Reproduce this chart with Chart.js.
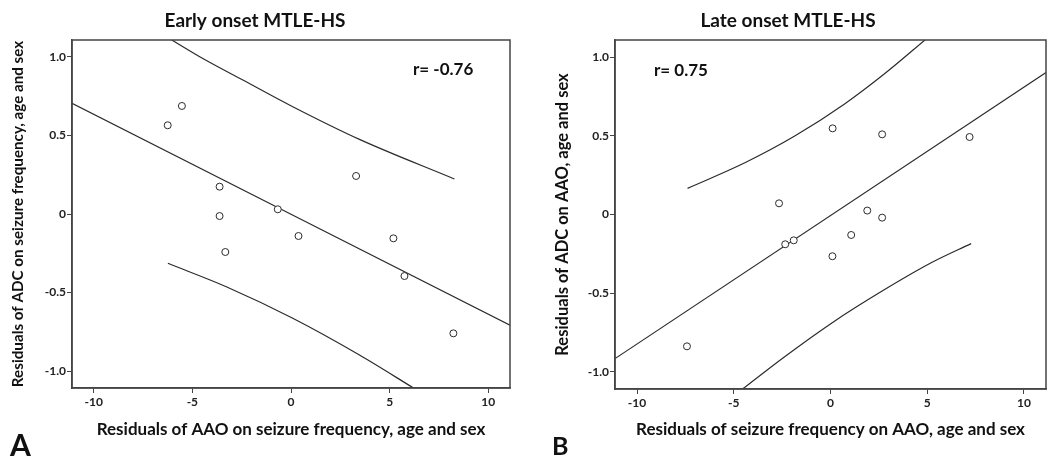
<!DOCTYPE html>
<html>
<head>
<meta charset="utf-8">
<script src="https://cdn.jsdelivr.net/npm/chart.js@4.4.1/dist/chart.umd.min.js"></script>
<style>
  html, body { margin: 0; padding: 0; background: #fff; overflow: hidden; }
  body { width: 1050px; height: 457px; position: relative; }
  .panel { position: absolute; top: 0; height: 457px; }
  #boxA { left: 0; width: 525px; }
  #boxB { left: 525px; width: 526px; }
  .letter { position: absolute; font-family: Lato, sans-serif; font-weight: bold; color: #111; line-height: 1; }
</style>
</head>
<body>
<div class="panel" id="boxA"><canvas id="chartA"></canvas></div>
<div class="panel" id="boxB"><canvas id="chartB"></canvas></div>
<div class="letter" style="left:10px; top:429px; font-size:30px;">A</div>
<div class="letter" style="left:552px; top:433px; font-size:25px;">B</div>
<script>
// ticks shared by both panels
const xTicks = [-10, -5, 0, 5, 10];
const yTicks = [-1.0, -0.5, 0, 0.5, 1.0];
const yTickLabels = ['-1.0', '-0.5', '0', '0.5', '1.0'];

// Panel A - early onset
const earlyX = [-6.25, -5.53, -3.62, -3.62, -0.67, 3.3, -3.33, 0.38, 5.19, 5.75, 8.23];
const earlyY = [0.565, 0.688, 0.174, -0.013, 0.03, 0.242, -0.242, -0.14, -0.155, -0.395, -0.76];
const earlyFitX = [-11.1, 11.1];
const earlyFitY = [0.705, -0.708];
const earlyUpperX = [-6.2, -4.47, -2.44, 0.09, 3.47, 8.28];
const earlyUpperY = [1.12, 0.99, 0.853, 0.683, 0.475, 0.223];
const earlyLowerX = [-6.24, -3.28, 0.09, 3.47, 6.3];
const earlyLowerY = [-0.314, -0.463, -0.664, -0.898, -1.115];

// Panel B - late onset
const lateX = [0.11, 2.67, 7.19, -2.66, 1.9, 2.67, -2.34, -1.9, 1.07, 0.1, -7.42];
const lateY = [0.547, 0.509, 0.492, 0.071, 0.025, -0.02, -0.189, -0.164, -0.13, -0.265, -0.837];
const lateFitX = [-11.14, 11.14];
const lateFitY = [-0.915, 0.902];
const lateUpperX = [-7.39, -4.4, -1.85, 0.71, 2.76, 5.0];
const lateUpperY = [0.166, 0.33, 0.498, 0.70, 0.89, 1.12];
const lateLowerX = [-4.62, -2.44, 0.11, 2.67, 5.23, 7.27];
const lateLowerY = [-1.115, -0.909, -0.685, -0.486, -0.305, -0.185];

const ink = '#2b2b2b';
const font = 'Lato, "Open Sans", sans-serif';

function pts(xs, ys) {
  return xs.map((x, i) => ({ x: x, y: ys[i] }));
}

function lineSet(xs, ys) {
  return {
    type: 'line', data: pts(xs, ys), borderColor: ink, borderWidth: 1.2,
    pointRadius: 0, fill: false, cubicInterpolationMode: 'monotone'
  };
}

// frame round the plot area and the r= note
const framePlugin = {
  id: 'frame',
  afterDraw(chart, args, opts) {
    const { ctx, chartArea: a } = chart;
    ctx.save();
    ctx.strokeStyle = '#444';
    ctx.lineWidth = 1.5;
    ctx.strokeRect(a.left, a.top, a.right - a.left, a.bottom - a.top);
    ctx.fillStyle = '#111';
    ctx.font = 'bold 17px ' + font;
    ctx.textBaseline = 'middle';
    ctx.fillText(opts.note, opts.noteX, opts.noteY);
    ctx.restore();
  }
};

function makeChart(id, cfg) {
  return new Chart(document.getElementById(id), {
    type: 'scatter',
    data: {
      datasets: [
        {
          data: pts(cfg.x, cfg.y), pointStyle: 'circle', pointRadius: 3.5,
          pointBorderWidth: 1, pointBorderColor: ink, pointBackgroundColor: '#fff'
        },
        lineSet(cfg.fitX, cfg.fitY),
        lineSet(cfg.upX, cfg.upY),
        lineSet(cfg.loX, cfg.loY)
      ]
    },
    options: {
      responsive: true,
      maintainAspectRatio: false,
      animation: false,
      layout: { padding: { left: 0, right: cfg.padRight, top: 0, bottom: 0 } },
      plugins: {
        legend: { display: false },
        tooltip: { enabled: false },
        title: {
          display: true, text: cfg.title, color: '#111',
          font: { family: font, size: 19, weight: 'bold', lineHeight: 1.2 },
          padding: { top: 9, bottom: 8.2 }
        },
        frame: { note: cfg.note, noteX: cfg.noteX, noteY: cfg.noteY }
      },
      scales: {
        x: {
          type: 'linear', min: cfg.xMin, max: cfg.xMax,
          afterBuildTicks: s => { s.ticks = xTicks.map(v => ({ value: v })); },
          afterFit: s => { s.height = cfg.xAxisH; },
          ticks: { color: '#222', padding: 2, maxRotation: 0, font: { family: font, size: 12, weight: 'bold' } },
          grid: { drawOnChartArea: false, drawTicks: true, tickLength: 5, color: '#444' },
          border: { color: '#444', width: 1.5 },
          title: {
            display: true, text: cfg.xTitle, color: '#111',
            font: { family: font, size: 17, weight: 'bold', lineHeight: 1.2 },
            padding: { top: 0, bottom: cfg.xTitlePad }
          }
        },
        y: {
          type: 'linear', min: -1.108, max: 1.108,
          afterBuildTicks: s => { s.ticks = yTicks.map(v => ({ value: v })); },
          afterFit: s => { s.width = cfg.yAxisW; },
          ticks: {
            color: '#222', padding: 1, font: { family: font, size: 12, weight: 'bold' },
            callback: v => yTickLabels[yTicks.indexOf(v)]
          },
          grid: { drawOnChartArea: false, drawTicks: true, tickLength: 5, color: '#444' },
          border: { color: '#444', width: 1.5 },
          title: {
            display: true, text: cfg.yTitle, color: '#111',
            font: { family: font, size: cfg.yTitleSize, weight: 'bold', lineHeight: 1.2 },
            padding: { top: cfg.yTitlePad, bottom: 0 }
          }
        }
      }
    },
    plugins: [framePlugin]
  });
}

makeChart('chartA', {
  x: earlyX, y: earlyY, fitX: earlyFitX, fitY: earlyFitY,
  upX: earlyUpperX, upY: earlyUpperY, loX: earlyLowerX, loY: earlyLowerY,
  title: 'Early onset MTLE-HS', note: 'r= -0.76', noteX: 413, noteY: 70,
  xTitle: 'Residuals of AAO on seizure frequency, age and sex',
  yTitle: 'Residuals of ADC on seizure frequency, age and sex',
  xMin: -11.1, xMax: 11.1, padRight: 15, yAxisW: 72, xAxisH: 69,
  xTitlePad: 17, yTitlePad: 8.5, yTitleSize: 15.2
});

makeChart('chartB', {
  x: lateX, y: lateY, fitX: lateFitX, fitY: lateFitY,
  upX: lateUpperX, upY: lateUpperY, loX: lateLowerX, loY: lateLowerY,
  title: 'Late onset MTLE-HS', note: 'r= 0.75', noteX: 129, noteY: 71,
  xTitle: 'Residuals of seizure frequency on AAO, age and sex',
  yTitle: 'Residuals of ADC on AAO, age and sex',
  xMin: -11.14, xMax: 11.14, padRight: 0, yAxisW: 90, xAxisH: 68,
  xTitlePad: 17, yTitlePad: 27.5, yTitleSize: 16.5
});
</script>
</body>
</html>
